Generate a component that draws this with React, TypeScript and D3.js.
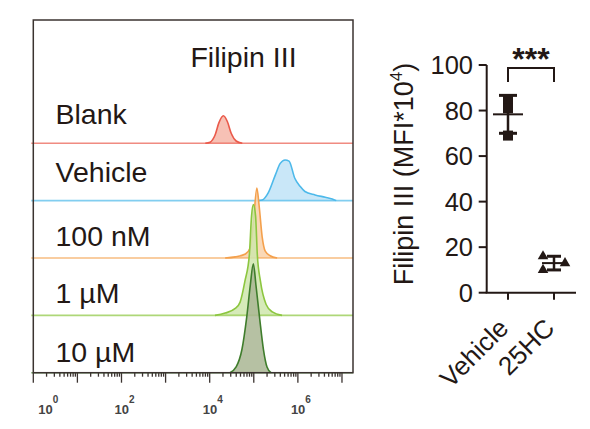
import React from 'react';
import * as d3 from 'd3';

// ---- histogram panel data ----
const SAMPLES = ['Blank', 'Vehicle', '100 nM', '1 µM', '10 µM'];
const HIST_STROKES = ['#ea5a4b', '#4db9ea', '#f4a04c', '#8cc63f', '#3f7d2c'];
const HIST_FILLS = ['#f6b6a8', '#c0e3f7', '#f9d1a9', '#cfe6ad', '#a9b693'];

// [log10 fluorescence, count]  (100 counts = one row gap)
const BLANK_HIST: [number, number][] = [
  [3.9, 0], [4.01, 2], [4.12, 14], [4.21, 36], [4.31, 48], [4.4, 38], [4.49, 17], [4.6, 4], [4.74, 0],
];
const VEHICLE_HIST: [number, number][] = [
  [5.1, 0], [5.19, 1], [5.33, 14], [5.49, 45], [5.6, 65], [5.71, 71], [5.8, 69], [5.93, 39],
  [6.05, 25], [6.16, 16], [6.39, 10], [6.62, 6], [6.78, 3], [6.87, 0],
];
const NM100_HIST: [number, number][] = [
  [4.35, 0], [4.58, 2], [4.81, 7], [4.92, 18], [4.99, 61], [5.07, 122], [5.12, 92], [5.19, 37],
  [5.26, 12], [5.37, 4], [5.53, 0],
];
const UM1_HIST: [number, number][] = [
  [4.12, 0], [4.35, 4], [4.58, 12], [4.69, 23], [4.8, 60], [4.9, 106], [4.95, 174], [4.99, 193],
  [5.04, 174], [5.08, 106], [5.15, 60], [5.28, 19], [5.42, 6], [5.64, 0],
];
const UM10_HIST: [number, number][] = [
  [4.46, 0], [4.6, 10], [4.73, 40], [4.84, 97], [4.92, 152], [4.99, 190], [5.05, 152], [5.13, 97],
  [5.22, 40], [5.3, 10], [5.39, 0],
];
const HISTS = [BLANK_HIST, VEHICLE_HIST, NM100_HIST, UM1_HIST, UM10_HIST];
const X_LABEL_EXPONENTS = [0, 2, 4, 6];

// ---- dot plot data ----
const GROUPS = ['Vehicle', '25HC'];
const VEHICLE_VALUES = [85, 81, 69];
const HC_VALUES = [16, 13, 10];
const Y_TICKS = [0, 20, 40, 60, 80, 100];

const FONT = '"Liberation Sans", Arial, Helvetica, sans-serif';
const INK = '#231815';

const HistPanel: React.FC = () => {
  const left = 33.3;
  const right = 353;
  const top = 20;
  const bottom = 372.7;
  const firstBase = 143.3;
  const rowGap = (bottom - firstBase) / (SAMPLES.length - 1);

  const x = d3.scaleLog().domain([1, Math.pow(10, 7.25)]).range([left, right]);
  const rowY = d3.scaleLinear().domain([0, SAMPLES.length - 1]).range([firstBase, bottom]);
  const h = d3.scaleLinear().domain([0, 100]).range([0, rowGap]);

  const labelDy = [19, 18.5, 12.5, 12.3, 11];

  const ticks = x.ticks();

  return (
    <g>
      {HISTS.map((pts, i) => {
        const base = rowY(i);
        const area = d3
          .area<[number, number]>()
          .x((d) => x(Math.pow(10, d[0])))
          .y0(base)
          .y1((d) => base - h(d[1]))
          .curve(d3.curveMonotoneX);
        const line = d3
          .line<[number, number]>()
          .x((d) => x(Math.pow(10, d[0])))
          .y((d) => base - h(d[1]))
          .curve(d3.curveMonotoneX);
        return (
          <g key={SAMPLES[i]}>
            <path d={area(pts) ?? ''} fill={HIST_FILLS[i]} fillOpacity={0.85} />
            <line x1={left - 2} x2={right} y1={base} y2={base} stroke={HIST_STROKES[i]} strokeOpacity={0.7} strokeWidth={1.6} />
            <path d={line(pts) ?? ''} fill="none" stroke={HIST_STROKES[i]} strokeWidth={1.6} />
            <text x={55.5} y={base - labelDy[i]} fontFamily={FONT} fontSize={28.5} fill={INK}>
              {SAMPLES[i]}
            </text>
          </g>
        );
      })}

      <rect x={left} y={top} width={right - left} height={bottom - top} fill="none" stroke="#3b3330" strokeWidth={1.5} />

      <text x={243.5} y={66.5} textAnchor="middle" fontFamily={FONT} fontSize={28.5} fill={INK}>
        Filipin III
      </text>

      {ticks.map((t, i) => {
        const major = Math.abs(Math.log10(t) - Math.round(Math.log10(t))) < 1e-9;
        return (
          <line key={i} x1={x(t)} x2={x(t)} y1={bottom} y2={bottom + (major ? 10 : 4)} stroke="#3b3330" strokeWidth={1.3} />
        );
      })}

      {X_LABEL_EXPONENTS.map((e) => {
        const cx = Math.max(x(Math.pow(10, e)), left + 12);
        return (
          <text key={e} x={cx - 7} y={414} fontFamily={FONT} fontSize={13} fontWeight="bold" fill="#444">
            10
            <tspan dy={-11} fontSize={10}>
              {e}
            </tspan>
          </text>
        );
      })}
    </g>
  );
};

const DotPanel: React.FC = () => {
  const axisX = 486.7;
  const axisRight = 576;
  const y = d3.scaleLinear().domain([0, 100]).range([292.7, 65]);
  const gx = d3.scalePoint<string>().domain(GROUPS).range([508, 554]);
  const y0 = y(0);

  const groups = [
    { name: GROUPS[0], values: VEHICLE_VALUES, shape: 'square', jitter: [0, 0, 0], meanW: 30, capW: 18 },
    { name: GROUPS[1], values: HC_VALUES, shape: 'triangle', jitter: [-11, 11, -11], meanW: 24, capW: 14 },
  ];

  const tri = d3.symbol().type(d3.symbolTriangle).size(48);

  return (
    <g>
      {/* y axis */}
      <line x1={axisX} x2={axisX} y1={y(100)} y2={y0} stroke={INK} strokeWidth={2} />
      {Y_TICKS.map((t) => (
        <g key={t}>
          <line x1={axisX - 8} x2={axisX} y1={y(t)} y2={y(t)} stroke={INK} strokeWidth={2} />
          <text x={473} y={y(t)} dy="0.36em" textAnchor="end" fontFamily={FONT} fontSize={25.5} fill={INK}>
            {t}
          </text>
        </g>
      ))}
      <text
        transform={`translate(413, 174) rotate(-90)`}
        textAnchor="middle"
        fontFamily={FONT}
        fontSize={27}
        fill={INK}
      >
        Filipin III (MFI*10
        <tspan dy={-11} fontSize={17}>
          4
        </tspan>
        <tspan dy={11}>)</tspan>
      </text>

      {/* x axis */}
      <line x1={axisX - 1} x2={axisRight} y1={y0} y2={y0} stroke={INK} strokeWidth={2} />
      {GROUPS.map((g) => (
        <g key={g}>
          <line x1={gx(g)} x2={gx(g)} y1={y0} y2={y0 + 7} stroke={INK} strokeWidth={2} />
          <text
            transform={`translate(${(gx(g) ?? 0) + 2}, ${y0 + 37}) rotate(-45)`}
            textAnchor="end"
            fontFamily={FONT}
            fontSize={26}
            fill={INK}
          >
            {g}
          </text>
        </g>
      ))}

      {groups.map((grp) => {
        const cx = gx(grp.name) ?? 0;
        const mean = d3.mean(grp.values) ?? 0;
        const sd = d3.deviation(grp.values) ?? 0;
        return (
          <g key={grp.name}>
            {grp.values.map((v, i) =>
              grp.shape === 'square' ? (
                <rect key={i} x={cx + grp.jitter[i] - 5} y={y(v) - 5} width={10} height={10} fill={INK} />
              ) : (
                <path key={i} d={tri() ?? ''} transform={`translate(${cx + grp.jitter[i]}, ${y(v)})`} fill={INK} />
              )
            )}
            <line x1={cx} x2={cx} y1={y(mean + sd)} y2={y(mean - sd)} stroke={INK} strokeWidth={2.5} />
            <line x1={cx - grp.capW / 2} x2={cx + grp.capW / 2} y1={y(mean + sd)} y2={y(mean + sd)} stroke={INK} strokeWidth={3} />
            <line x1={cx - grp.capW / 2} x2={cx + grp.capW / 2} y1={y(mean - sd)} y2={y(mean - sd)} stroke={INK} strokeWidth={3} />
            <line x1={cx - grp.meanW / 2} x2={cx + grp.meanW / 2} y1={y(mean)} y2={y(mean)} stroke={INK} strokeWidth={2} />
          </g>
        );
      })}

      {/* significance bracket */}
      <path
        d={`M${gx(GROUPS[0])},82 V68 H${gx(GROUPS[1])} V82`}
        fill="none"
        stroke={INK}
        strokeWidth={2}
      />
      <text
        x={((gx(GROUPS[0]) ?? 0) + (gx(GROUPS[1]) ?? 0)) / 2}
        y={70}
        textAnchor="middle"
        fontFamily={FONT}
        fontSize={32}
        fontWeight="bold"
        fill={INK}
      >
        ***
      </text>
    </g>
  );
};

const App: React.FC = () => (
  <svg
    width={590}
    height={429}
    viewBox="0 0 590 429"
    style={{ position: 'absolute', left: 0, top: 0, background: '#fff' }}
  >
    <rect width={590} height={429} fill="#fff" />
    <HistPanel />
    <DotPanel />
  </svg>
);

export default App;
